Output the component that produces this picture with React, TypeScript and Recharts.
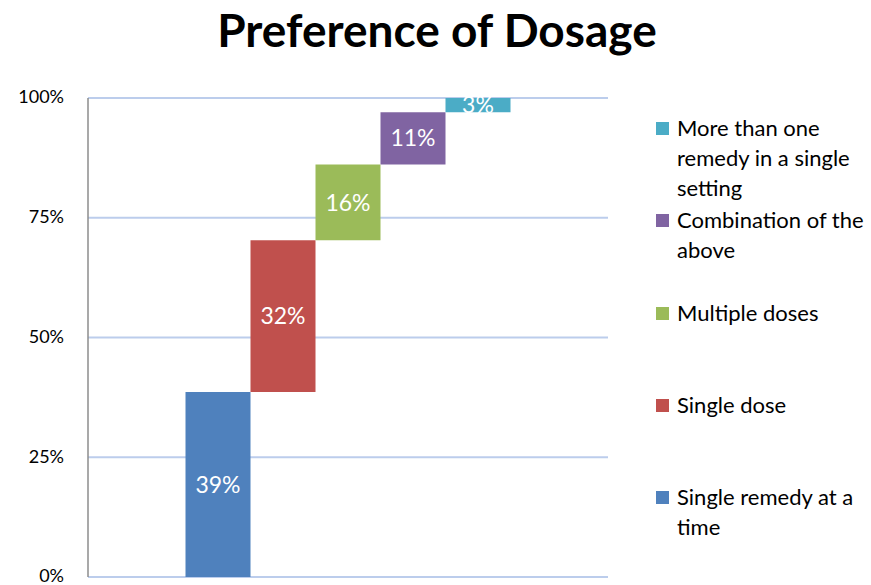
import React from 'react';
import { BarChart, Bar, XAxis, YAxis, CartesianGrid, LabelList, Cell } from 'recharts';

const categories = [
  'Single remedy at a time',
  'Single dose',
  'Multiple doses',
  'Combination of the above',
  'More than one remedy in a single setting',
];
const values = [39, 32, 16, 11, 3];
const colors = ['#4F81BD', '#C0504D', '#9BBB59', '#8064A2', '#4BACC6'];
const yTicks = [0, 25, 50, 75, 100];
const title = 'Preference of Dosage';

const total = values.reduce((a, b) => a + b, 0);
const data = categories.map((name, i) => {
  const base = values.slice(0, i).reduce((a, b) => a + b, 0);
  return {
    name,
    base: (base * 100) / total,
    value: (values[i] * 100) / total,
    label: values[i],
  };
});

const legendItems = categories.map((c, i) => ({ name: c, color: colors[i] })).reverse();
const legendTops = [113, 205, 298, 390, 482];
const legendWraps: string[][] = [
  ['More than one', 'remedy in a single', 'setting'],
  ['Combination of the', 'above'],
  ['Multiple doses'],
  ['Single dose'],
  ['Single remedy at a', 'time'],
];

const FONT = 'Lato, "Open Sans", sans-serif';

export default function App() {
  return (
    <div style={{ position: 'absolute', left: 0, top: 0, width: 871, height: 585, background: '#fff', fontFamily: FONT }}>
      <div
        style={{
          position: 'absolute',
          left: 0,
          top: 2,
          width: 874,
          textAlign: 'center',
          fontSize: 46,
          fontWeight: 700,
          color: '#000',
          lineHeight: '56px',
        }}
      >
        {title}
      </div>
      <BarChart
        width={871}
        height={585}
        data={data}
        margin={{ top: 98, right: 263, bottom: 8, left: 28 }}
        barCategoryGap={0}
        barGap={0}
      >
        <CartesianGrid horizontal vertical={false} stroke="#BCCDEC" strokeWidth={2} />
        <XAxis dataKey="name" hide padding={{ left: 97.5, right: 97.5 }} />
        <YAxis
          width={60}
          domain={[0, 100]}
          ticks={yTicks}
          tickFormatter={(v: number) => `${v}%`}
          axisLine={{ stroke: '#8C8C8C', strokeWidth: 1.5 }}
          tickLine={false}
          tickSize={0}
          tickMargin={24}
          tick={{ fill: '#000', fontSize: 18, fontFamily: FONT, dy: -1 }}
          interval={0}
        />
        <Bar dataKey="base" stackId="a" fill="transparent" isAnimationActive={false} />
        <Bar dataKey="value" stackId="a" isAnimationActive={false}>
          {data.map((d, i) => (
            <Cell key={d.name} fill={colors[i]} />
          ))}
          <LabelList
            dataKey="label"
            position="center"
            formatter={(v: number) => `${v}%`}
            fill="#fff"
            fontSize={23}
            fontFamily={FONT}
          />
        </Bar>
      </BarChart>
      {legendItems.map((item, i) => (
        <div key={item.name} style={{ position: 'absolute', left: 656, top: legendTops[i], width: 215 }}>
          <div style={{ position: 'absolute', left: 0, top: 9, width: 13, height: 13, background: item.color }} />
          <div style={{ position: 'absolute', left: 21, top: 0, fontSize: 22, lineHeight: '30px', color: '#000', whiteSpace: 'nowrap' }}>
            {legendWraps[i].map((line, j) => (
              <div key={j}>{line}</div>
            ))}
          </div>
        </div>
      ))}
    </div>
  );
}
